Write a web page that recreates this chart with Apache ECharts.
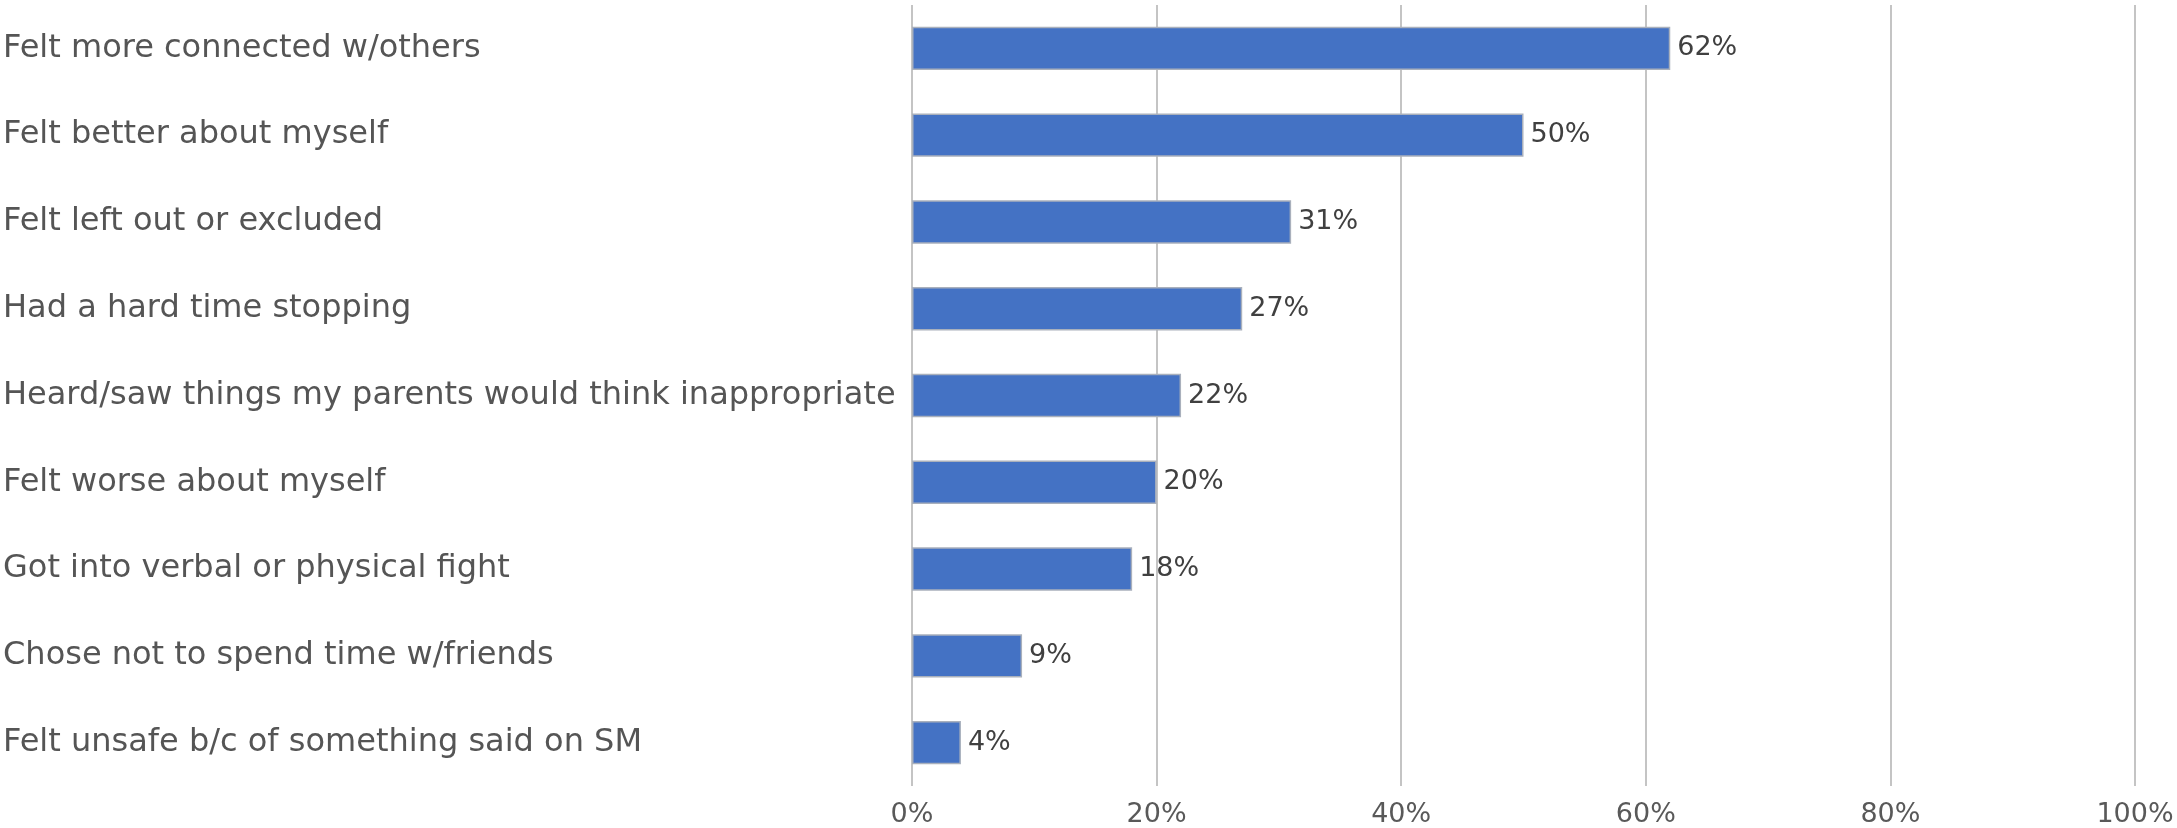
<!DOCTYPE html>
<html>
<head>
<meta charset="utf-8">
<script src="https://cdn.jsdelivr.net/npm/echarts@6/dist/echarts.min.js"></script>
<style>
  html, body { margin: 0; padding: 0; background: #fff; }
  #chart { width: 2177px; height: 828px; }
</style>
</head>
<body>
<div id="chart"></div>
<script>
const categories = [
  'Felt more connected w/others',
  'Felt better about myself',
  'Felt left out or excluded',
  'Had a hard time stopping',
  'Heard/saw things my parents would think inappropriate',
  'Felt worse about myself',
  'Got into verbal or physical fight',
  'Chose not to spend time w/friends',
  'Felt unsafe b/c of something said on SM'
];
const shares = [0.62, 0.50, 0.31, 0.27, 0.22, 0.20, 0.18, 0.09, 0.04];
const xTicks = [0, 0.2, 0.4, 0.6, 0.8, 1.0];

const chart = echarts.init(document.getElementById('chart'));
const font = '"DejaVu Sans", "Open Sans", sans-serif';

chart.setOption({
  animation: false,
  grid: { left: 912, right: 42, top: 5, bottom: 42, containLabel: false },
  xAxis: {
    type: 'value',
    min: xTicks[0],
    max: xTicks[xTicks.length - 1],
    interval: 0.2,
    axisLine: { show: false },
    axisTick: { show: false },
    splitLine: { lineStyle: { color: '#c4c4c4', width: 2 } },
    axisLabel: {
      margin: 15,
      color: '#595959',
      fontFamily: font,
      fontSize: 27,
      formatter: v => Math.round(v * 100) + '%'
    }
  },
  yAxis: {
    type: 'category',
    inverse: true,
    data: categories,
    axisLine: { show: false },
    axisTick: { show: false },
    axisLabel: {
      align: 'left',
      margin: 909,
      color: '#555555',
      fontFamily: font,
      fontSize: 32
    }
  },
  series: [{
    type: 'bar',
    data: shares,
    barWidth: '50%',
    itemStyle: {
      color: '#4472C4',
      borderColor: '#a9b0bc',
      borderWidth: 1.5
    },
    label: {
      show: true,
      position: 'right',
      distance: 7,
      color: '#404040',
      fontFamily: font,
      fontSize: 27,
      formatter: p => Math.round(p.value * 100) + '%'
    }
  }]
});
</script>
</body>
</html>
